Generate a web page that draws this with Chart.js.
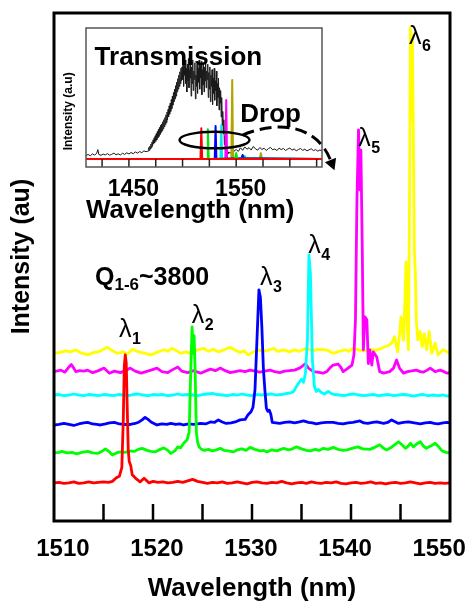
<!DOCTYPE html>
<html>
<head>
<meta charset="utf-8">
<script src="https://cdn.jsdelivr.net/npm/chart.js@4.4.1/dist/chart.umd.min.js"></script>
<style>
  html, body { margin: 0; padding: 0; background: #fff; }
  #wrap { position: relative; width: 471px; height: 602px; overflow: hidden; }
  #main { position: absolute; left: 0; top: 0; }
  #inset { position: absolute; left: 58px; top: 18px; }
</style>
</head>
<body>
<div id="wrap">
  <canvas id="main" width="471" height="602"></canvas>
  <canvas id="inset" width="290" height="212"></canvas>
</div>
<script>
// ---- Drop-port spectra, stacked (wavelength nm, intensity a.u.) ----
const redTrace = [
  [1510.0,7.5],[1510.5,7.6],[1511.0,7.4],[1511.5,7.5],[1512.0,7.7],[1512.5,7.4],[1513.0,7.5],[1513.5,7.7],
  [1514.0,7.5],[1514.5,7.6],[1515.0,7.7],[1515.5,7.6],[1515.9,7.8],[1516.3,8.5],[1516.6,8.8],[1516.85,10.5],
  [1517.0,20.0],[1517.1,30.5],[1517.2,32.7],[1517.3,31.0],[1517.4,22.0],[1517.5,14.0],[1517.6,11.7],[1517.75,10.9],
  [1517.9,9.1],[1518.25,8.4],[1518.7,7.7],[1519.1,8.4],[1519.6,7.5],[1520.0,7.8],[1520.5,7.6],[1521.0,7.7],
  [1521.5,7.5],[1522.0,7.6],[1522.5,7.8],[1523.0,7.6],[1523.5,7.9],[1524.0,8.2],[1524.5,7.8],[1525.0,7.6],
  [1525.5,7.4],[1526.0,7.6],[1526.5,7.5],[1527.0,7.7],[1527.5,7.4],[1528.0,7.5],[1528.5,7.7],[1529.0,7.5],
  [1529.5,7.3],[1530.0,7.6],[1530.5,7.7],[1531.0,7.5],[1531.5,7.4],[1532.0,7.6],[1532.5,7.5],[1533.0,7.8],
  [1533.5,7.5],[1534.0,7.3],[1534.5,7.5],[1535.0,7.6],[1535.5,7.4],[1536.0,7.7],[1536.5,7.5],[1537.0,7.4],
  [1537.5,7.6],[1538.0,7.5],[1538.5,7.7],[1539.0,7.4],[1539.5,7.3],[1540.0,7.5],[1540.5,7.6],[1541.0,7.4],
  [1541.5,7.5],[1542.0,7.7],[1542.5,7.4],[1543.0,7.5],[1543.5,7.3],[1544.0,7.5],[1544.5,7.6],[1545.0,7.4],
  [1545.5,7.5],[1546.0,7.7],[1546.5,7.5],[1547.0,7.3],[1547.5,7.5],[1548.0,7.6],[1548.5,7.4],[1549.0,7.5],
  [1549.5,7.4],[1550.0,7.5]
];
const greenTrace = [
  [1510.0,13.4],[1510.5,13.5],[1510.8,13.7],[1511.3,13.4],[1511.8,13.5],[1512.3,13.2],[1512.8,13.5],[1513.4,13.7],
  [1513.9,13.4],[1514.4,13.3],[1514.9,13.8],[1515.2,14.2],[1515.6,13.6],[1515.9,13.0],[1516.3,13.4],[1516.7,13.6],
  [1517.2,13.5],[1517.6,13.8],[1518.1,13.7],[1518.5,14.1],[1518.9,14.3],[1519.4,13.9],[1519.8,13.7],[1520.2,13.6],
  [1520.6,14.0],[1521.1,14.4],[1521.5,13.9],[1521.8,13.3],[1522.2,13.8],[1522.5,14.6],[1522.8,14.4],[1523.1,15.3],
  [1523.45,16.0],[1523.65,17.5],[1523.82,30.0],[1523.95,38.2],[1524.05,33.0],[1524.15,36.5],[1524.25,30.0],
  [1524.38,17.5],[1524.5,15.6],[1524.65,14.6],[1524.9,14.1],[1525.2,13.9],[1525.6,14.1],[1526.0,13.8],[1526.4,14.0],
  [1526.8,14.3],[1527.2,13.9],[1527.6,13.8],[1528.1,13.6],[1528.5,14.0],[1529.0,14.2],[1529.4,13.9],[1529.8,14.5],
  [1530.3,14.1],[1530.8,13.8],[1531.2,13.9],[1531.5,13.6],[1532.0,14.0],[1532.5,13.8],[1532.9,14.1],[1533.2,14.3],
  [1533.7,14.0],[1534.1,14.2],[1534.5,14.6],[1535.0,14.2],[1535.5,13.9],[1535.9,13.8],[1536.4,14.1],[1536.8,13.9],
  [1537.2,14.3],[1537.7,14.1],[1538.2,14.5],[1538.7,14.1],[1539.2,13.9],[1539.6,14.0],[1540.1,14.3],[1540.7,14.6],
  [1541.2,14.2],[1541.9,14.1],[1542.4,14.5],[1542.9,15.0],[1543.3,14.3],[1543.6,14.0],[1544.0,14.4],[1544.4,15.0],
  [1544.8,15.6],[1545.2,14.9],[1545.5,14.3],[1545.8,14.8],[1546.0,15.3],[1546.3,14.6],[1546.6,15.1],[1547.0,15.6],
  [1547.3,14.8],[1547.6,14.3],[1548.0,14.7],[1548.5,15.3],[1548.9,14.5],[1549.2,13.8],[1549.6,13.5],[1550.0,13.4]
];
const blueTrace = [
  [1510.0,18.9],[1510.5,19.0],[1511.0,19.2],[1511.5,19.0],[1512.0,18.8],[1512.5,19.1],[1513.0,19.3],[1513.4,19.4],
  [1513.9,19.1],[1514.3,19.0],[1514.7,18.9],[1515.2,19.1],[1515.6,19.3],[1516.1,19.4],[1516.6,19.1],[1517.1,19.0],
  [1517.7,19.0],[1518.2,19.2],[1518.6,19.5],[1518.9,19.9],[1519.2,20.4],[1519.5,20.0],[1519.8,19.5],[1520.1,19.2],
  [1520.4,18.9],[1520.9,19.1],[1521.4,19.0],[1521.8,19.2],[1522.3,19.0],[1522.7,19.1],[1523.1,18.9],[1523.6,19.1],
  [1524.1,19.0],[1524.5,19.1],[1524.8,19.2],[1525.3,19.1],[1525.8,19.5],[1526.2,19.4],[1526.6,19.9],[1527.0,19.5],
  [1527.4,19.2],[1527.9,19.3],[1528.3,19.5],[1528.8,19.9],[1529.3,20.0],[1529.6,20.9],[1529.9,21.5],[1530.1,22.4],
  [1530.3,25.8],[1530.5,35.6],[1530.7,45.5],[1530.85,44.0],[1531.0,38.0],[1531.15,30.0],[1531.3,25.8],[1531.45,22.2],
  [1531.6,21.6],[1531.75,21.8],[1531.9,21.0],[1532.05,19.4],[1532.4,19.3],[1532.8,19.2],[1533.3,19.4],[1533.8,19.5],
  [1534.3,19.3],[1534.8,19.5],[1535.2,19.7],[1535.7,19.4],[1536.1,19.3],[1536.5,19.1],[1537.0,19.3],[1537.5,19.4],
  [1538.2,19.4],[1538.7,19.2],[1539.2,19.1],[1539.7,19.3],[1540.2,19.4],[1540.9,19.7],[1541.3,19.3],[1541.7,19.2],
  [1542.2,19.4],[1542.6,19.5],[1543.3,19.2],[1543.7,19.4],[1544.1,19.9],[1544.5,19.5],[1544.8,19.2],[1545.3,19.4],
  [1545.8,19.5],[1546.4,19.3],[1547.0,19.1],[1547.5,19.3],[1548.0,19.4],[1548.4,19.2],[1548.8,19.1],[1549.3,19.3],
  [1549.7,19.4],[1550.0,19.3]
];
const cyanTrace = [
  [1510.0,24.8],[1510.5,24.9],[1511.0,24.7],[1511.5,24.8],[1512.0,25.0],[1512.5,24.8],[1513.0,24.7],[1513.5,24.9],
  [1514.0,24.8],[1514.5,24.7],[1515.0,24.9],[1515.5,24.8],[1516.0,24.7],[1516.5,24.9],[1517.0,24.8],[1517.5,24.7],
  [1518.0,24.9],[1518.5,25.0],[1519.0,24.8],[1519.5,24.7],[1520.0,24.9],[1520.5,24.8],[1521.0,24.9],[1521.5,24.7],
  [1522.0,24.8],[1522.5,25.0],[1523.0,24.8],[1523.5,24.9],[1524.0,24.8],[1524.5,24.7],[1525.0,24.9],[1525.5,25.0],
  [1526.0,25.1],[1526.5,24.9],[1527.0,24.8],[1527.5,24.7],[1528.0,24.9],[1528.5,24.8],[1529.0,25.0],[1529.5,24.8],
  [1530.0,24.7],[1530.5,24.9],[1531.0,24.8],[1531.5,24.9],[1532.0,25.0],[1532.5,24.8],[1533.0,24.9],[1533.5,25.1],
  [1533.9,25.2],[1534.2,25.5],[1534.5,26.5],[1534.8,27.4],[1535.0,27.9],[1535.2,27.3],[1535.4,29.1],[1535.6,35.6],
  [1535.75,52.4],[1535.9,48.8],[1536.1,31.7],[1536.3,26.5],[1536.5,25.5],[1536.7,25.9],[1537.0,25.3],[1537.3,25.0],
  [1537.7,25.5],[1538.0,25.1],[1538.3,24.9],[1538.8,24.8],[1539.3,24.7],[1539.8,24.9],[1540.3,25.0],[1540.8,24.8],
  [1541.3,24.7],[1541.8,24.8],[1542.3,24.9],[1542.8,24.7],[1543.3,24.8],[1543.8,24.9],[1544.3,24.7],[1544.8,24.8],
  [1545.3,24.9],[1545.8,24.8],[1546.3,24.6],[1546.8,24.8],[1547.3,24.9],[1547.8,24.7],[1548.3,24.8],[1548.8,24.7],
  [1549.3,24.8],[1549.7,24.6],[1550.0,24.7]
];
const magentaTrace = [
  [1510.0,29.4],[1510.7,29.7],[1511.1,29.3],[1511.5,30.3],[1511.75,30.8],[1512.0,30.1],[1512.2,29.4],[1512.6,29.6],
  [1513.0,29.5],[1513.4,29.7],[1513.9,29.2],[1514.5,29.6],[1515.05,30.1],[1515.6,29.1],[1516.1,29.5],[1516.7,29.2],
  [1517.2,29.6],[1517.7,30.1],[1518.2,29.5],[1518.8,29.1],[1519.3,29.4],[1519.8,29.7],[1520.4,30.1],[1520.9,29.4],
  [1521.5,29.2],[1521.9,29.7],[1522.5,30.3],[1522.9,29.5],[1523.5,29.2],[1524.1,29.6],[1524.8,29.1],[1525.3,29.5],
  [1525.8,29.9],[1526.3,29.6],[1526.8,30.1],[1527.3,29.6],[1527.8,29.2],[1528.3,29.4],[1528.8,29.6],[1529.3,29.4],
  [1529.8,29.7],[1530.3,29.5],[1530.8,29.3],[1531.3,29.5],[1531.8,29.7],[1532.3,29.4],[1532.8,29.2],[1533.3,29.5],
  [1533.8,29.6],[1534.3,29.7],[1534.8,30.1],[1535.1,30.5],[1535.4,31.0],[1535.7,30.1],[1536.2,29.4],[1536.6,29.3],
  [1537.2,29.1],[1537.6,29.5],[1537.9,30.2],[1538.2,30.7],[1538.7,30.9],[1539.0,30.2],[1539.2,29.4],[1539.5,29.8],
  [1539.7,30.1],[1540.1,30.7],[1540.3,32.7],[1540.45,39.6],[1540.6,63.2],[1540.76,77.0],[1540.9,65.2],[1541.0,73.0],
  [1541.14,53.3],[1541.25,33.7],[1541.4,40.2],[1541.6,39.6],[1541.75,31.0],[1541.9,33.7],[1542.1,30.7],[1542.25,33.3],
  [1542.6,32.3],[1542.9,29.4],[1543.3,29.1],[1543.9,29.4],[1544.3,30.1],[1544.6,31.7],[1544.9,30.1],[1545.3,29.1],
  [1545.7,29.4],[1546.0,29.5],[1546.6,29.7],[1547.0,29.4],[1547.3,29.3],[1547.7,29.7],[1548.0,30.1],[1548.5,29.4],
  [1549.0,29.7],[1549.4,29.4],[1549.7,29.1],[1550.0,29.2]
];
const yellowTrace = [
  [1510.0,33.0],[1510.6,33.2],[1511.2,33.5],[1511.6,33.3],[1512.2,33.7],[1512.7,33.1],[1513.4,32.7],[1513.9,33.1],
  [1514.6,33.4],[1515.4,34.2],[1515.9,33.5],[1516.4,33.0],[1517.0,33.3],[1517.4,32.8],[1517.9,33.8],[1518.4,33.4],
  [1519.0,33.1],[1519.8,32.7],[1520.4,33.2],[1521.1,33.7],[1521.5,33.4],[1521.9,34.0],[1522.4,33.5],[1522.8,33.0],
  [1523.3,33.3],[1523.8,33.0],[1524.5,33.7],[1525.1,34.0],[1525.6,33.4],[1526.1,33.8],[1526.6,33.3],[1527.2,33.7],
  [1527.8,34.2],[1528.3,33.6],[1528.8,33.2],[1529.2,33.5],[1529.6,32.7],[1530.2,33.3],[1530.6,33.7],[1531.1,33.4],
  [1531.6,33.6],[1532.2,34.0],[1532.6,33.4],[1533.2,33.7],[1533.8,33.3],[1534.3,33.7],[1534.8,33.4],[1535.5,34.0],
  [1536.1,33.5],[1536.7,33.8],[1537.5,33.7],[1538.2,33.0],[1538.8,33.4],[1539.4,33.7],[1539.8,33.4],[1540.2,34.0],
  [1540.7,33.7],[1541.4,33.5],[1541.9,33.8],[1542.5,33.6],[1543.1,34.0],[1543.4,34.3],[1543.8,34.6],[1544.1,35.0],
  [1544.4,36.3],[1544.7,33.3],[1544.9,36.6],[1545.05,40.2],[1545.3,35.6],[1545.45,43.5],[1545.56,51.0],[1545.7,37.6],
  [1545.8,33.7],[1545.9,59.3],[1546.0,97.2],[1546.1,78.9],[1546.2,95.7],[1546.3,75.0],[1546.4,53.3],[1546.5,48.8],
  [1546.6,39.6],[1546.74,35.6],[1546.97,37.3],[1547.2,34.3],[1547.4,36.9],[1547.65,33.7],[1547.9,37.3],[1548.15,33.0],
  [1548.5,35.0],[1548.8,32.7],[1549.3,33.7],[1549.7,33.3],[1550.0,33.1]
];

const mainTicks = [1510, 1515, 1520, 1525, 1530, 1535, 1540, 1545, 1550];
const mainTickLabels = [1510, 1520, 1530, 1540, 1550];
const peakNames = ['1', '2', '3', '4', '5', '6'];
const qLabel = ['Q', '1-6', '~3800'];

// ---- Inset: broadband transmission and the six drop channels ----
const transmission = [
  [1410,8.3],[1412,9.0],[1414,8.1],[1416,9.4],[1418,8.6],[1420,9.8],[1421,12.5],[1422,9.0],[1424,8.4],[1426,9.3],
  [1428,8.7],[1430,9.6],[1432,8.5],[1434,9.1],[1436,10.0],[1438,8.8],[1440,9.5],[1442,8.6],[1444,9.9],[1446,9.1],
  [1448,10.2],[1450,9.4],[1452,10.4],[1454,9.6],[1456,10.8],[1458,10.0],[1460,11.1],[1462,10.3],[1464,11.6],[1466,11.0],
  [1468.0,11.5],[1468.5,14.0],[1469.0,12.0],[1469.5,15.0],[1470.0,13.0],[1470.5,16.5],[1471.0,14.0],[1471.5,18.0],
  [1472.0,15.0],[1472.5,19.5],[1473.0,16.5],[1473.5,21.0],[1474.0,17.5],[1474.5,22.5],[1475.0,18.5],[1475.5,24.0],
  [1476.0,19.5],[1476.5,25.5],[1477.0,21.0],[1477.5,27.0],[1478.0,22.0],[1478.5,28.5],[1479.0,23.5],[1479.5,30.0],
  [1480.0,25.0],[1480.5,31.0],[1481.0,26.0],[1481.5,32.5],[1482.0,27.5],[1482.5,34.0],[1483.0,29.0],[1483.5,35.5],
  [1484.0,30.5],[1484.5,37.5],[1485.0,32.0],[1485.5,39.5],[1486.0,34.0],[1486.5,41.5],[1487.0,36.0],[1487.5,44.0],
  [1488.0,38.0],[1488.5,46.0],[1489.0,40.0],[1489.5,48.5],[1490.0,42.0],[1490.5,51.0],[1491.0,44.5],[1491.5,53.5],
  [1492.0,47.0],[1492.5,56.0],[1493.0,49.0],[1493.5,58.5],[1494.0,51.0],[1494.5,61.0],[1495.0,54.0],[1495.5,63.5],
  [1496.0,56.0],[1496.5,66.0],[1497.0,58.0],[1497.5,68.5],[1498.0,60.0],[1498.5,71.0],[1499.0,62.0],[1499.5,72.0],
  [1500.0,63],[1500.5,75],[1501.0,58],[1501.5,73],[1502.0,66],[1502.5,77],[1503.0,60],[1503.5,71],[1504.0,54],
  [1504.5,74],[1505.0,62],[1505.5,78],[1506.0,57],[1506.5,70],[1507.0,64],[1507.5,76],[1508.0,51],[1508.5,72],
  [1509.0,60],[1509.5,77],[1510.0,55],[1510.5,69],[1511.0,63],[1511.5,75],[1512.0,49],[1512.5,66],[1513.0,58],
  [1513.5,74],[1514.0,53],[1514.5,71],[1515.0,61],[1515.5,77],[1516.0,56],[1516.5,73],[1517.0,64],[1517.5,76],
  [1518.0,52],[1518.5,70],[1519.0,59],[1519.5,75],[1520.0,54],[1520.5,72],[1521.0,62],[1521.5,77],[1522.0,57],
  [1522.5,69],[1523.0,63],[1523.5,74],[1524.0,50],[1524.5,68],[1525.0,56],[1525.5,72],[1526.0,47],[1526.5,66],
  [1527.0,58],[1527.5,70],[1528.0,45],[1528.5,64],[1529.0,53],[1529.5,71],[1530.0,48],[1530.5,62],[1531.0,55],
  [1531.5,69],[1532.0,44],[1532.5,60],[1533.0,50],[1533.5,64],[1534.0,41],[1534.5,57],[1535.0,46],[1535.5,55],
  [1536.0,36],[1536.5,50],[1537.0,30],[1537.5,40],[1538.0,24],[1538.5,34],[1539.0,16],[1539.5,22],[1540.0,12],
  [1540.5,15],[1541.0,10],[1541.5,11.5],[1542.0,9.5],[1542.5,10.8],[1543.0,9.8],[1544,10.5],[1546,9.8],
  [1548,11.4],[1550,12.6],[1552,11.2],[1554,13.8],[1556,12.0],[1558,14.5],[1560,12.8],[1562,13.9],[1564,12.2],
  [1566,14.8],[1568,13.0],[1570,12.1],[1572,14.0],[1574,12.6],[1576,13.5],[1578,11.9],[1580,13.2],[1582,14.1],
  [1584,12.4],[1586,13.0],[1588,11.8],[1590,13.6],[1592,12.5],[1594,13.4],[1596,11.9],[1598,12.8],[1600,13.7],
  [1602,12.1],[1604,13.0],[1606,11.7],[1608,12.6],[1610,13.3],[1612,12.0],[1614,12.8],[1616,11.6],[1618,12.4],
  [1620,13.1],[1622,11.8],[1624,12.5],[1626,11.4],[1628,12.2],[1630,11.6]
];
const insetRed = [[1410,5.8],[1516.7,5.8],[1517.5,27.8],[1518.3,5.8],[1630,5.8]];
const insetGreen = [[1410,5.8],[1522.8,5.8],[1523.6,27.1],[1524.4,5.8],[1549,6.2],[1550,10.0],[1551,6.2],[1630,5.8]];
const insetBlue = [[1410,5.8],[1530.0,5.8],[1530.8,29.5],[1531.6,5.8],[1555,6.5],[1556,8.6],[1557,6.5],[1630,5.8]];
const insetCyan = [[1410,5.8],[1535.3,5.8],[1536.1,30.2],[1536.9,5.8],[1557,6.0],[1558,7.9],[1559,6.0],[1630,5.8]];
const insetMagenta = [[1410,5.8],[1539.9,5.8],[1540.7,48.2],[1541.5,5.8],[1630,5.8]];
const insetOlive = [[1410,5.8],[1545.5,5.8],[1546.3,62.6],[1547.1,5.8],[1572,6.0],[1573,9.9],[1574,6.0],[1630,5.8]];

const insetTicks = [1425, 1450, 1475, 1500, 1525, 1550, 1575, 1600, 1625];
const insetTickLabels = [1450, 1550];

// ---------------------------------------------------------------
const FAMILY = '"Liberation Sans", Arial, Helvetica, sans-serif';
const toXY = pts => pts.map(([x, y]) => ({x, y}));

function line(points, color, width) {
  return {
    data: toXY(points), borderColor: color, backgroundColor: color, borderWidth: width,
    pointRadius: 0, fill: false, tension: 0, borderJoinStyle: 'round', borderCapStyle: 'round'
  };
}

// plot frame plus inward tick marks on the wavelength axis
const boxPlugin = {
  id: 'box',
  afterDraw(chart, _args, o) {
    const {ctx, chartArea: a} = chart;
    const x = chart.scales.x;
    ctx.save();
    ctx.strokeStyle = o.tickColor;
    ctx.lineWidth = o.tickWidth;
    for (const t of x.ticks) {
      if (t.value <= x.min || t.value >= x.max) continue;
      const px = x.getPixelForValue(t.value);
      ctx.beginPath();
      ctx.moveTo(px, a.bottom);
      ctx.lineTo(px, a.bottom - o.tickLength);
      ctx.stroke();
    }
    ctx.strokeStyle = o.color;
    ctx.lineWidth = o.lineWidth;
    ctx.strokeRect(a.left, a.top, a.right - a.left, a.bottom - a.top);
    ctx.restore();
  }
};

// wavelength tick numbers of the main plot, set slightly inward from the ends
const tickTextPlugin = {
  id: 'tickText',
  afterDraw(chart, _args, o) {
    const {ctx, chartArea: a, scales: {x}} = chart;
    const mid = (a.left + a.right) / 2;
    ctx.save();
    ctx.font = `bold ${o.size}px ${FAMILY}`;
    ctx.fillStyle = '#000';
    ctx.textAlign = 'center';
    ctx.textBaseline = 'alphabetic';
    for (const v of mainTickLabels) {
      const px = x.getPixelForValue(v);
      ctx.fillText(String(v), mid + (px - mid) * o.spread + o.shift, a.bottom + o.baseline);
    }
    ctx.restore();
  }
};

// lambda labels over each resonance and the Q annotation
const notesPlugin = {
  id: 'notes',
  afterDraw(chart, _args, o) {
    const {ctx, scales: {x, y}} = chart;
    ctx.save();
    ctx.fillStyle = '#000';
    ctx.textAlign = 'left';
    ctx.textBaseline = 'alphabetic';
    o.peaks.forEach((at, i) => {
      const px = x.getPixelForValue(at[0]);
      const py = y.getPixelForValue(at[1]);
      ctx.font = `${o.lambdaSize}px ${FAMILY}`;
      ctx.fillText('\u03bb', px, py);
      const w = ctx.measureText('\u03bb').width;
      ctx.font = `bold ${o.subSize}px ${FAMILY}`;
      ctx.fillText(peakNames[i], px + w + 0.5, py + o.subDrop);
    });
    let qx = x.getPixelForValue(o.q[0]);
    const qy = y.getPixelForValue(o.q[1]);
    ctx.font = `bold ${o.qSize}px ${FAMILY}`;
    ctx.fillText(qLabel[0], qx, qy);
    qx += ctx.measureText(qLabel[0]).width;
    ctx.font = `bold ${o.qSubSize}px ${FAMILY}`;
    ctx.fillText(qLabel[1], qx, qy + o.qSubDrop);
    qx += ctx.measureText(qLabel[1]).width;
    ctx.font = `bold ${o.qSize}px ${FAMILY}`;
    ctx.fillText(qLabel[2], qx, qy);
    ctx.restore();
  }
};

new Chart(document.getElementById('main'), {
  type: 'line',
  data: {
    datasets: [
      line(redTrace, '#ff0000', 2.8),
      line(greenTrace, '#00ff00', 2.8),
      line(blueTrace, '#0000ff', 2.8),
      line(cyanTrace, '#00ffff', 2.8),
      line(magentaTrace, '#ff00ff', 2.8),
      line(yellowTrace, '#ffff00', 2.8)
    ]
  },
  options: {
    responsive: false,
    animation: false,
    events: [],
    layout: {padding: {top: 13, right: 21, left: 0, bottom: 0}},
    plugins: {
      legend: {display: false},
      tooltip: {enabled: false},
      box: {color: '#000', lineWidth: 3, tickColor: '#000', tickWidth: 2.5, tickLength: 17},
      tickText: {size: 24, spread: 0.95, shift: -1, baseline: 35},
      notes: {
        lambdaSize: 25, subSize: 16, subDrop: 7,
        peaks: [[1516.57, 36.2], [1523.91, 39.0], [1530.81, 46.4], [1535.69, 52.8], [1540.74, 73.8], [1545.86, 93.9]],
        q: [1514.14, 46.5], qSize: 25, qSubSize: 17, qSubDrop: 5
      }
    },
    scales: {
      x: {
        type: 'linear', min: 1510, max: 1550,
        afterBuildTicks: s => { s.ticks = mainTicks.map(v => ({value: v})); },
        afterFit: s => { s.height = 81; },
        grid: {display: false, drawTicks: false},
        border: {display: false},
        ticks: {display: false},
        title: {
          display: true, text: 'Wavelength (nm)', color: '#000',
          font: {family: FAMILY, size: 26, weight: 'bold', lineHeight: 1},
          padding: {top: 0, bottom: 0}
        }
      },
      y: {
        type: 'linear', min: 0, max: 100,
        afterFit: s => { s.width = 54; },
        grid: {display: false, drawTicks: false},
        border: {display: false},
        ticks: {display: false},
        title: {
          display: true, text: '\u00a0\u00a0\u00a0Intensity (au)', color: '#000',
          font: {family: FAMILY, size: 25, weight: 'bold', lineHeight: 1},
          padding: {top: 9.5, bottom: 0}
        }
      }
    }
  },
  plugins: [boxPlugin, tickTextPlugin, notesPlugin]
});

// ---- inset ----
const insetNotesPlugin = {
  id: 'insetNotes',
  beforeDraw(chart) {
    const {ctx, chartArea: a} = chart;
    ctx.save();
    ctx.fillStyle = '#fff';
    ctx.fillRect(a.left, a.top, a.right - a.left, a.bottom - a.top);
    ctx.restore();
  },
  afterDraw(chart, _args, o) {
    const {ctx, scales: {x, y}} = chart;
    const P = ([u, v]) => [x.getPixelForValue(u), y.getPixelForValue(v)];
    ctx.save();
    ctx.fillStyle = '#000';
    ctx.textAlign = 'left';
    ctx.textBaseline = 'alphabetic';
    ctx.font = `bold ${o.textSize}px ${FAMILY}`;
    for (const t of o.texts) {
      const [px, py] = P(t.at);
      ctx.fillText(t.text, px, py);
    }
    // ellipse around the drop channels
    const [ex, ey] = P(o.ellipse.center);
    const rx = Math.abs(x.getPixelForValue(o.ellipse.center[0] + o.ellipse.half[0]) - ex);
    const ry = Math.abs(y.getPixelForValue(o.ellipse.center[1] + o.ellipse.half[1]) - ey);
    ctx.strokeStyle = '#000';
    ctx.lineWidth = 2.5;
    ctx.beginPath();
    ctx.ellipse(ex, ey, rx, ry, 0, 0, Math.PI * 2);
    ctx.stroke();
    // dashed arrow pointing to the stacked drop spectra
    const pts = o.arrow.map(P);
    ctx.lineWidth = 3;
    ctx.setLineDash([12, 6]);
    ctx.beginPath();
    ctx.moveTo(pts[0][0], pts[0][1]);
    ctx.bezierCurveTo(pts[1][0], pts[1][1], pts[2][0], pts[2][1], pts[3][0], pts[3][1]);
    ctx.stroke();
    ctx.setLineDash([]);
    let dx = pts[3][0] - pts[2][0], dy = pts[3][1] - pts[2][1];
    const len = Math.hypot(dx, dy);
    dx /= len; dy /= len;
    const tip = [pts[3][0] + dx * 11, pts[3][1] + dy * 11];
    ctx.beginPath();
    ctx.moveTo(tip[0], tip[1]);
    ctx.lineTo(pts[3][0] - dy * 6, pts[3][1] + dx * 6);
    ctx.lineTo(pts[3][0] + dy * 6, pts[3][1] - dx * 6);
    ctx.closePath();
    ctx.fill();
    ctx.restore();
  }
};

new Chart(document.getElementById('inset'), {
  type: 'line',
  data: {
    datasets: [
      line(insetRed, '#ff0000', 2),
      line(insetGreen, '#00e600', 2),
      line(insetBlue, '#0000ff', 2),
      line(insetCyan, '#00e5ee', 2),
      line(insetMagenta, '#ff00ff', 2),
      line(insetOlive, '#b4a200', 2),
      line(transmission, '#1a1a1a', 1)
    ]
  },
  options: {
    responsive: false,
    animation: false,
    events: [],
    layout: {padding: {top: 10, right: 26, left: 0, bottom: 0}},
    plugins: {
      legend: {display: false},
      tooltip: {enabled: false},
      box: {color: '#555', lineWidth: 1.5, tickColor: '#222', tickWidth: 1.5, tickLength: 8},
      insetNotes: {
        textSize: 26,
        texts: [{text: 'Transmission', at: [1418.0, 73.4]}, {text: 'Drop', at: [1553.8, 32.6]}],
        ellipse: {center: [1529.8, 19.4], half: [32.6, 6.0]},
        arrow: [[1555.9, 23.0], [1592.3, 34.5], [1625.8, 28.8], [1637.9, 5.0]]
      }
    },
    scales: {
      x: {
        type: 'linear', min: 1410, max: 1630,
        afterBuildTicks: s => { s.ticks = insetTicks.map(v => ({value: v})); },
        afterFit: s => { s.height = 63; },
        grid: {display: false, drawTicks: false},
        border: {display: false},
        ticks: {
          display: true, autoSkip: false, maxRotation: 0, color: '#000', labelOffset: 4.5, padding: 11.5,
          font: {family: FAMILY, size: 23, weight: 'bold', lineHeight: 1},
          callback: v => insetTickLabels.includes(v) ? String(v) : ''
        },
        title: {
          display: true, text: 'Wavelength (nm)', align: 'start', color: '#000',
          font: {family: FAMILY, size: 26, weight: 'bold', lineHeight: 1},
          padding: {top: 0, bottom: 6}
        }
      },
      y: {
        type: 'linear', min: 0, max: 100,
        afterFit: s => { s.width = 28; },
        grid: {display: false, drawTicks: false},
        border: {display: false},
        ticks: {display: false},
        title: {
          display: true, text: '\u00a0\u00a0\u00a0\u00a0\u00a0Intensity (a.u)', align: 'start', color: '#000',
          font: {family: FAMILY, size: 12, weight: 'bold', lineHeight: 1},
          padding: {top: 5, bottom: 0}
        }
      }
    }
  },
  plugins: [boxPlugin, insetNotesPlugin]
});
</script>
</body>
</html>
